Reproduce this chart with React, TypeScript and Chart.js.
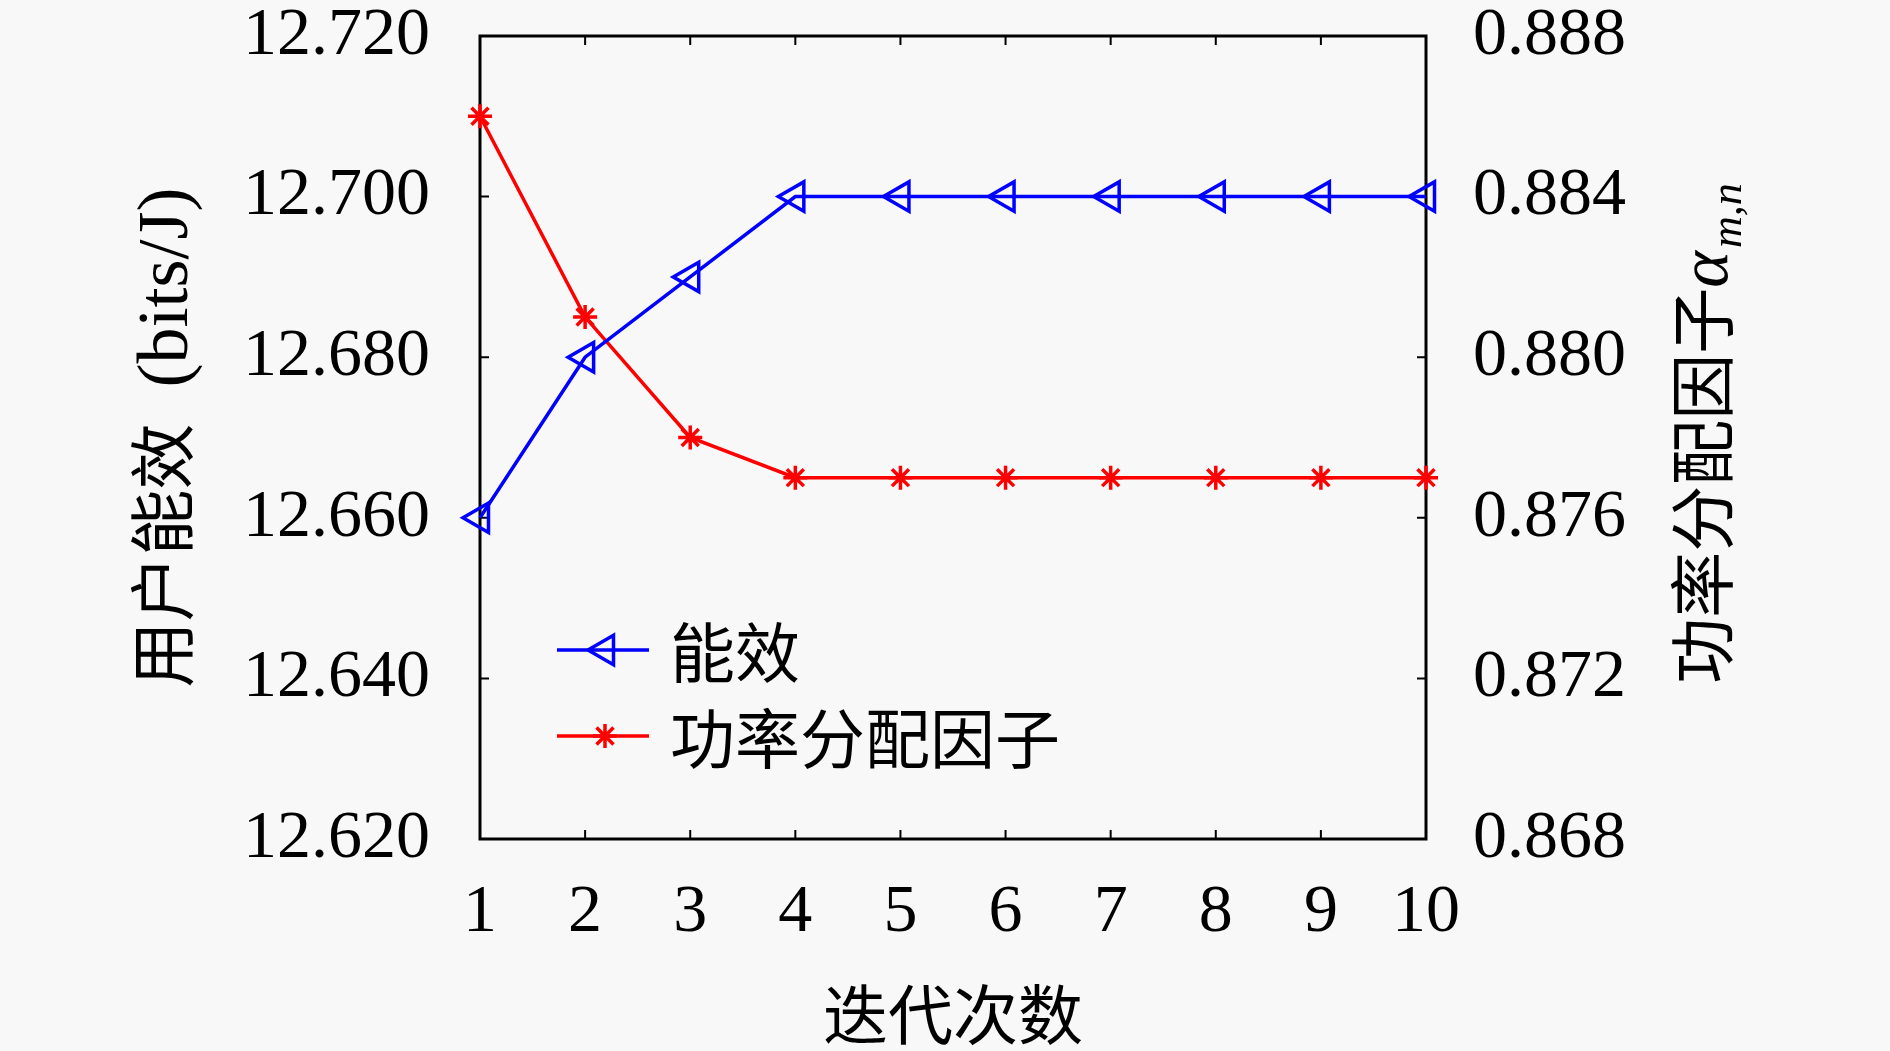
import React, { useEffect, useRef } from 'react';
import Chart from 'chart.js/auto';
import { drawPoint } from 'chart.js/helpers';

// data
const iterations = ['1', '2', '3', '4', '5', '6', '7', '8', '9', '10'];
const efficiency = [12.66, 12.68, 12.69, 12.7, 12.7, 12.7, 12.7, 12.7, 12.7, 12.7];
const powerFactor = [0.886, 0.881, 0.878, 0.877, 0.877, 0.877, 0.877, 0.877, 0.877, 0.877];
const leftTicks = [12.62, 12.64, 12.66, 12.68, 12.7, 12.72];
const rightTicks = [0.868, 0.872, 0.876, 0.88, 0.884, 0.888];
const seriesNames = ['能效', '功率分配因子'];
const xTitle = '迭代次数';
const leftTitle = ['用户能效', '(bits/J)'];
const rightTitle = ['功率分配因子', 'α', 'm,n'];

const SERIF = "'Liberation Serif', 'Times New Roman', serif";
const CJK = "'Noto Sans CJK SC', 'Noto Sans CJK JP', sans-serif";
const BLUE = '#0000ff';
const RED = '#ff0000';

const framePlugin = {
  id: 'frame',
  beforeDatasetsDraw(chart: any) {
    const { ctx, chartArea: a, scales } = chart;
    const len = 9;
    ctx.save();
    ctx.strokeStyle = '#000';
    ctx.lineWidth = 2;
    ctx.beginPath();
    scales.x.ticks.forEach((_t: any, i: number) => {
      const px = scales.x.getPixelForTick(i);
      ctx.moveTo(px, a.bottom);
      ctx.lineTo(px, a.bottom - len);
      ctx.moveTo(px, a.top);
      ctx.lineTo(px, a.top + len);
    });
    scales.y.ticks.forEach((t: any) => {
      const py = scales.y.getPixelForValue(t.value);
      ctx.moveTo(a.left, py);
      ctx.lineTo(a.left + len, py);
    });
    scales.y1.ticks.forEach((t: any) => {
      const py = scales.y1.getPixelForValue(t.value);
      ctx.moveTo(a.right, py);
      ctx.lineTo(a.right - len, py);
    });
    ctx.stroke();
    ctx.lineWidth = 3;
    ctx.strokeRect(a.left, a.top, a.right - a.left, a.bottom - a.top);
    ctx.restore();
  },
  afterDraw(chart: any) {
    const { ctx, chartArea: a } = chart;
    const midY = (a.top + a.bottom) / 2;
    ctx.save();
    ctx.fillStyle = '#000';

    // x title
    ctx.font = `65px ${CJK}`;
    ctx.textAlign = 'center';
    ctx.textBaseline = 'middle';
    ctx.fillText(xTitle, (a.left + a.right) / 2, 1014);

    // left title, reads bottom to top
    ctx.save();
    ctx.translate(a.left - 293, midY);
    ctx.rotate(-Math.PI / 2);
    ctx.textAlign = 'left';
    ctx.textBaseline = 'alphabetic';
    ctx.font = `66px ${CJK}`;
    const w1 = ctx.measureText(leftTitle[0]).width;
    ctx.font = `72px ${SERIF}`;
    const w2 = ctx.measureText(leftTitle[1]).width;
    const gap = 36;
    let sx = -(w1 + gap + w2) / 2;
    ctx.font = `66px ${CJK}`;
    ctx.fillText(leftTitle[0], sx, 0);
    ctx.font = `72px ${SERIF}`;
    ctx.fillText(leftTitle[1], sx + w1 + gap, 0);
    ctx.restore();

    // right title with alpha_{m,n}
    ctx.save();
    ctx.translate(a.right + 301, midY - 4);
    ctx.rotate(-Math.PI / 2);
    ctx.textAlign = 'left';
    ctx.textBaseline = 'alphabetic';
    ctx.font = `66px ${CJK}`;
    const r1 = ctx.measureText(rightTitle[0]).width;
    ctx.font = `italic 70px ${SERIF}`;
    const r2 = ctx.measureText(rightTitle[1]).width;
    ctx.font = `italic 44px ${SERIF}`;
    const r3 = ctx.measureText(rightTitle[2]).width;
    sx = -(r1 + r2 + r3 + 3) / 2;
    ctx.font = `66px ${CJK}`;
    ctx.fillText(rightTitle[0], sx, 0);
    ctx.font = `italic 70px ${SERIF}`;
    ctx.fillText(rightTitle[1], sx + r1, 0);
    ctx.font = `italic 44px ${SERIF}`;
    ctx.fillText(rightTitle[2], sx + r1 + r2 + 3, 14);
    ctx.restore();

    // legend
    const rows = [a.top + 614, a.top + 700];
    chart.data.datasets.forEach((ds: any, i: number) => {
      const y = rows[i];
      const x0 = a.left + 77;
      const x1 = a.left + 169;
      ctx.strokeStyle = ds.borderColor;
      ctx.lineWidth = ds.borderWidth;
      ctx.beginPath();
      ctx.moveTo(x0, y);
      ctx.lineTo(x1, y);
      ctx.stroke();
      ctx.strokeStyle = ds.pointBorderColor;
      ctx.fillStyle = ds.pointBackgroundColor;
      ctx.lineWidth = ds.pointBorderWidth;
      drawPoint(ctx, {
        pointStyle: ds.pointStyle,
        rotation: ds.pointRotation,
        radius: ds.pointRadius,
        borderWidth: ds.pointBorderWidth,
      }, (x0 + x1) / 2 + 2, y);
      ctx.fillStyle = '#000';
      ctx.font = `65px ${CJK}`;
      ctx.textAlign = 'left';
      ctx.textBaseline = 'middle';
      ctx.fillText(ds.label, a.left + 190, y + 2);
    });
    ctx.restore();
  },
};

const tickFont = { family: SERIF, size: 68, lineHeight: 1 };

// fixed box sizes so the plot frame lands where it does in the figure
const fixY = (width: number) => (s: any) => {
  s.width = width;
  s.paddingTop = 36;
  s.paddingBottom = 0;
};

const App: React.FC = () => {
  const canvasRef = useRef<HTMLCanvasElement>(null);

  useEffect(() => {
    document.body.style.margin = '0';
    document.body.style.overflow = 'hidden';
    document.body.style.background = '#f8f8f8';
    if (!canvasRef.current) return;

    const chart = new Chart(canvasRef.current, {
      type: 'line',
      data: {
        labels: iterations,
        datasets: [
          {
            label: seriesNames[0],
            data: efficiency,
            yAxisID: 'y',
            borderColor: BLUE,
            borderWidth: 3.5,
            pointStyle: 'triangle',
            pointRotation: -90,
            pointRadius: 17,
            pointBorderWidth: 3.5,
            pointBorderColor: BLUE,
            pointBackgroundColor: 'rgba(0,0,0,0)',
            tension: 0,
            clip: false,
          },
          {
            label: seriesNames[1],
            data: powerFactor,
            yAxisID: 'y1',
            borderColor: RED,
            borderWidth: 3.5,
            pointStyle: 'star',
            pointRotation: 0,
            pointRadius: 12,
            pointBorderWidth: 3.5,
            pointBorderColor: RED,
            pointBackgroundColor: RED,
            tension: 0,
            clip: false,
          },
        ] as any,
      },
      options: {
        animation: false,
        responsive: true,
        maintainAspectRatio: false,
        events: [],
        layout: { padding: 0 },
        plugins: {
          legend: { display: false },
          tooltip: { enabled: false },
        },
        scales: {
          x: {
            type: 'category',
            offset: false,
            grid: { display: false, drawTicks: false },
            border: { display: false },
            ticks: { font: tickFont, color: '#000', padding: 40, maxRotation: 0, autoSkip: false },
            afterFit: (s: any) => {
              s.height = 212;
              s.paddingLeft = 0;
              s.paddingRight = 0;
            },
          },
          y: {
            position: 'left',
            min: leftTicks[0],
            max: leftTicks[leftTicks.length - 1],
            afterBuildTicks: (s: any) => { s.ticks = leftTicks.map((v) => ({ value: v })); },
            grid: { display: false, drawTicks: false },
            border: { display: false },
            ticks: {
              font: tickFont,
              color: '#000',
              padding: 50,
              callback: (v: any) => Number(v).toFixed(3),
            },
            afterFit: fixY(480),
          },
          y1: {
            position: 'right',
            min: rightTicks[0],
            max: rightTicks[rightTicks.length - 1],
            afterBuildTicks: (s: any) => { s.ticks = rightTicks.map((v) => ({ value: v })); },
            grid: { display: false, drawTicks: false },
            border: { display: false },
            ticks: {
              font: tickFont,
              color: '#000',
              padding: 47,
              callback: (v: any) => Number(v).toFixed(3),
            },
            afterFit: fixY(464),
          },
        },
      } as any,
      plugins: [framePlugin],
    });

    return () => {
      chart.destroy();
    };
  }, []);

  return (
    <div style={{ width: 1890, height: 1051, position: 'relative' }}>
      <canvas ref={canvasRef}></canvas>
    </div>
  );
};

export default App;
